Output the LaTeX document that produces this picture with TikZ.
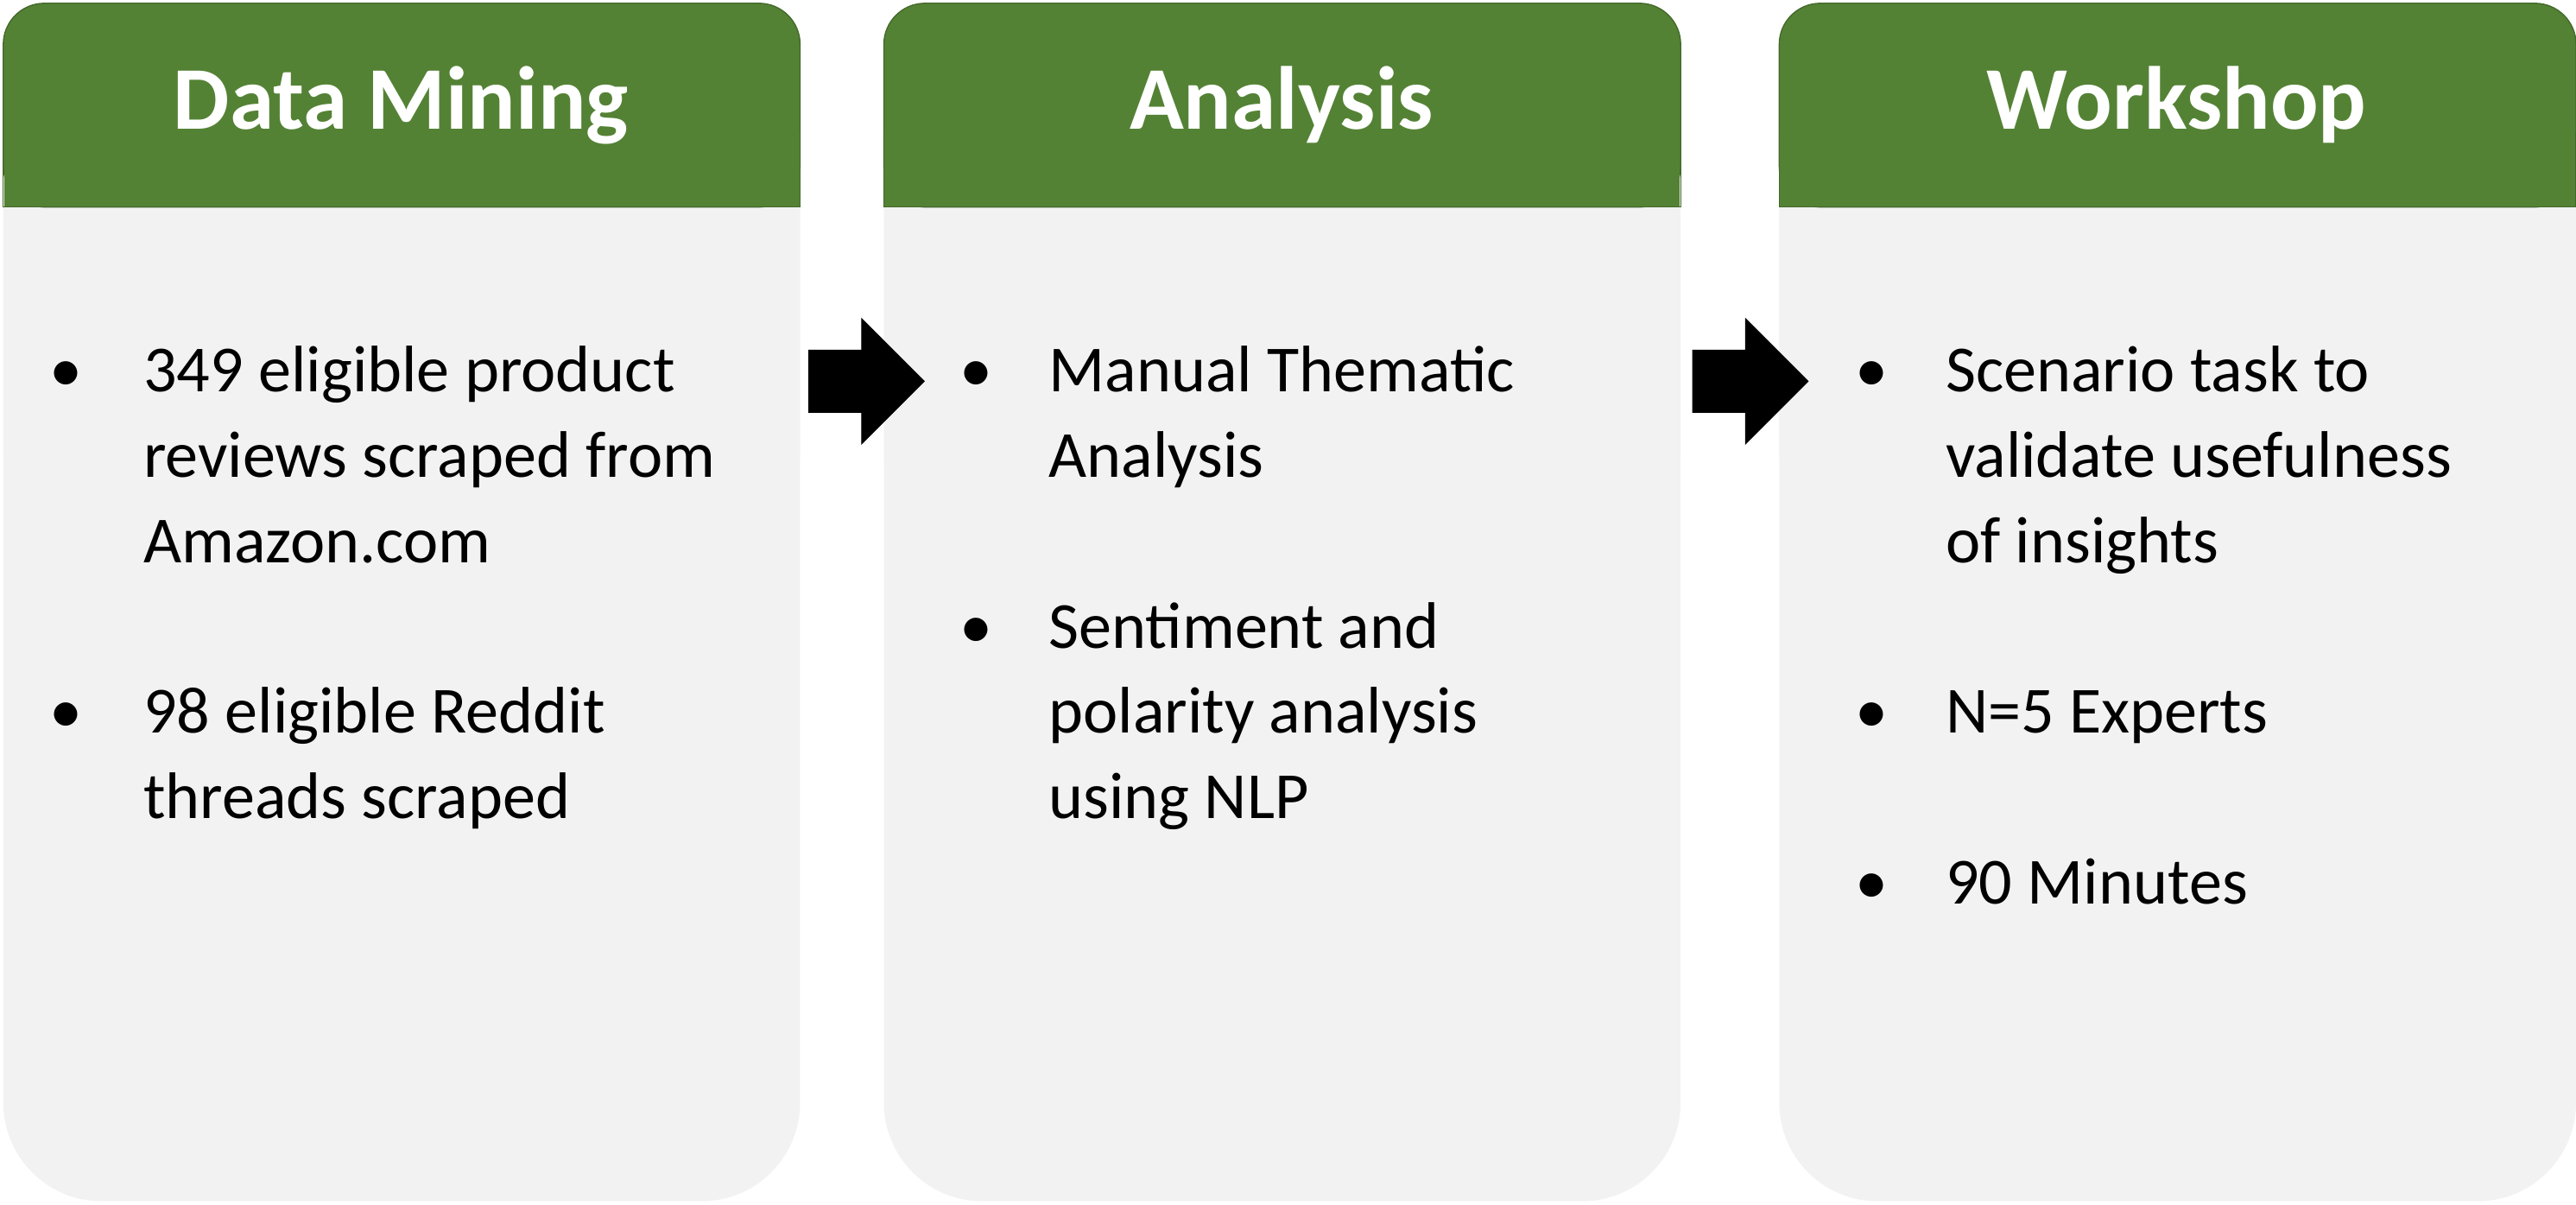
\documentclass[tikz,border=0pt]{standalone}
\usepackage{fontspec}
\setmainfont{Carlito}
\usetikzlibrary{shapes.arrows}
\definecolor{hdr}{HTML}{548235}
\definecolor{body}{HTML}{F2F2F2}
\begin{document}
\begin{tikzpicture}[x=0.02cm,y=-0.02cm,
  txt/.style={anchor=north west,inner sep=0pt,align=left,font=\fontsize{22.8}{29.6}\selectfont},
  bul/.style={anchor=north west,inner sep=0pt,font=\fontsize{22.8}{29.6}\selectfont},
  title/.style={text=white,font=\fontsize{31}{36}\selectfont\bfseries},
  arr/.style={single arrow,fill=black,draw=black,inner sep=0pt,minimum height=1.4cm,text height=0.74cm,text width=0pt,single arrow head extend=0.38cm,single arrow tip angle=90}]
\useasboundingbox (0,0) rectangle (1568,733);
\foreach \x/\n in {2/a,538/b,1083/c}{
  \fill[body,rounded corners=1.2cm] (\x,2) rectangle ++(485,729);
  \fill[body,rounded corners=0.5cm] (\x,2) rectangle ++(485,300);
  \fill[hdr,draw=hdr!80!black,rounded corners=0.5cm] (\x,2) rectangle ++(485,124);
  \fill[hdr] (\x+0.5,80) rectangle ++(484,45.5);
  \draw[hdr!80!black] (\x,80) -- (\x,126) -- (\x+485,126) -- (\x+485,80);
}
\node[title] (ta) at (244,64) {Data Mining};
\node[title] (tb) at (780,64) {Analysis};
\node[title] (tc) at (1325,64) {Workshop};
% panel 1
\node[bul] (a1b) at (30,201.5) {\strut•};
\node[txt] (a1) at (87,201.5) {\strut 349 eligible product\\reviews scraped from\\Amazon.com};
\node[bul] (a2b) at (30,409.5) {\strut•};
\node[txt] (a2) at (87,409.5) {\strut 98 eligible Reddit\\threads scraped};
% panel 2
\node[bul] (b1b) at (584,201.5) {\strut•};
\node[txt] (b1) at (638,201.5) {\strut Manual Thematic\\Analysis};
\node[bul] (b2b) at (584,357.5) {\strut•};
\node[txt] (b2) at (638,357.5) {\strut Sentiment and\\polarity analysis\\using NLP};
% panel 3
\node[bul] (c1b) at (1129,201.5) {\strut•};
\node[txt] (c1) at (1184,201.5) {\strut Scenario task to\\validate usefulness\\of insights};
\node[bul] (c2b) at (1129,409.5) {\strut•};
\node[txt] (c2) at (1184,409.5) {\strut N=5 Experts};
\node[bul] (c3b) at (1129,513.5) {\strut•};
\node[txt] (c3) at (1184,513.5) {\strut 90 Minutes};
% arrows
\node[arr] (ar1) at (518,232) {};
\node[arr] (ar2) at (1056,232) {};
\end{tikzpicture}
\end{document}
